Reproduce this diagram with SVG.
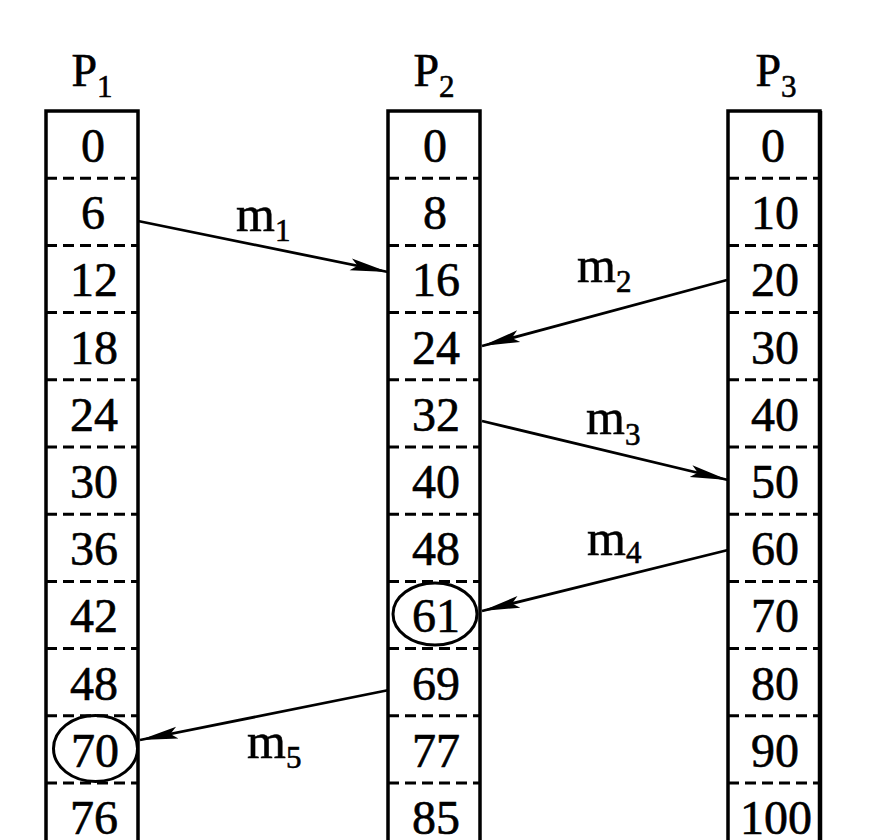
<svg xmlns="http://www.w3.org/2000/svg" width="882" height="840" viewBox="0 0 882 840">
<style>
  .col { fill: none; stroke: #000; stroke-width: 3.5; }
  .div { stroke: #000; stroke-width: 3; stroke-dasharray: 11 6; }
  .num { font-family: "Liberation Serif", "Times New Roman", serif; font-size: 48px; text-anchor: middle; fill: #000; stroke: #000; stroke-width: 0.6; }
  .hdr { font-family: "Liberation Serif", "Times New Roman", serif; font-size: 46px; text-anchor: middle; fill: #000; stroke: #000; stroke-width: 0.6; }
  .lbl { font-family: "Liberation Serif", "Times New Roman", serif; font-size: 50px; fill: #000; stroke: #000; stroke-width: 0.6; }
  .sub { font-size: 31px; }
  .msg { stroke: #000; stroke-width: 2.8; fill: none; marker-end: url(#arrow); }
  .mark { fill: none; stroke: #000; stroke-width: 3; }
</style>
<defs>
  <marker id="arrow" markerUnits="userSpaceOnUse" markerWidth="44" markerHeight="16" refX="38" refY="8" orient="auto">
    <path d="M0,2 L38,8 L0,14 L7,8 Z" fill="#000"/>
  </marker>
</defs>
<rect width="882" height="840" fill="#fff"/>

<g id="P1">
  <text class="hdr" x="92" y="86">P<tspan class="sub" dy="11">1</tspan></text>
  <path class="col" d="M46,850 V111 H138 V850"/>
  <line class="div" x1="46" y1="178.2" x2="138" y2="178.2"/>
  <line class="div" x1="46" y1="245.4" x2="138" y2="245.4"/>
  <line class="div" x1="46" y1="312.6" x2="138" y2="312.6"/>
  <line class="div" x1="46" y1="379.8" x2="138" y2="379.8"/>
  <line class="div" x1="46" y1="447" x2="138" y2="447"/>
  <line class="div" x1="46" y1="514.2" x2="138" y2="514.2"/>
  <line class="div" x1="46" y1="581.4" x2="138" y2="581.4"/>
  <line class="div" x1="46" y1="648.6" x2="138" y2="648.6"/>
  <line class="div" x1="46" y1="715.8" x2="138" y2="715.8"/>
  <line class="div" x1="46" y1="783" x2="138" y2="783"/>
  <text class="num" x="93" y="162">0</text>
  <text class="num" x="93" y="229">6</text>
  <text class="num" x="94" y="296">12</text>
  <text class="num" x="94" y="364">18</text>
  <text class="num" x="94" y="431">24</text>
  <text class="num" x="94" y="498">30</text>
  <text class="num" x="94" y="565">36</text>
  <text class="num" x="94" y="632">42</text>
  <text class="num" x="94" y="700">48</text>
  <text class="num" x="95" y="767">70</text>
  <text class="num" x="94" y="834">76</text>
  <ellipse class="mark" cx="95.5" cy="748.5" rx="42" ry="33"/>
</g>

<g id="P2">
  <text class="hdr" x="434" y="86">P<tspan class="sub" dy="11">2</tspan></text>
  <path class="col" d="M388,850 V111 H480 V850"/>
  <line class="div" x1="388" y1="178.2" x2="480" y2="178.2"/>
  <line class="div" x1="388" y1="245.4" x2="480" y2="245.4"/>
  <line class="div" x1="388" y1="312.6" x2="480" y2="312.6"/>
  <line class="div" x1="388" y1="379.8" x2="480" y2="379.8"/>
  <line class="div" x1="388" y1="447" x2="480" y2="447"/>
  <line class="div" x1="388" y1="514.2" x2="480" y2="514.2"/>
  <line class="div" x1="388" y1="581.4" x2="480" y2="581.4"/>
  <line class="div" x1="388" y1="648.6" x2="480" y2="648.6"/>
  <line class="div" x1="388" y1="715.8" x2="480" y2="715.8"/>
  <line class="div" x1="388" y1="783" x2="480" y2="783"/>
  <text class="num" x="435" y="162">0</text>
  <text class="num" x="435" y="229">8</text>
  <text class="num" x="436" y="296">16</text>
  <text class="num" x="436" y="364">24</text>
  <text class="num" x="436" y="431">32</text>
  <text class="num" x="436" y="498">40</text>
  <text class="num" x="436" y="565">48</text>
  <text class="num" x="436" y="632">61</text>
  <text class="num" x="436" y="700">69</text>
  <text class="num" x="436" y="767">77</text>
  <text class="num" x="436" y="834">85</text>
  <ellipse class="mark" cx="435" cy="614" rx="42" ry="31"/>
</g>

<g id="P3">
  <text class="hdr" x="776" y="86">P<tspan class="sub" dy="11">3</tspan></text>
  <path class="col" d="M728,850 V111 H820 V850"/>
  <line x1="820" y1="111" x2="820" y2="850" stroke="#000" stroke-width="4.5"/>
  <line class="div" x1="728" y1="178.2" x2="820" y2="178.2"/>
  <line class="div" x1="728" y1="245.4" x2="820" y2="245.4"/>
  <line class="div" x1="728" y1="312.6" x2="820" y2="312.6"/>
  <line class="div" x1="728" y1="379.8" x2="820" y2="379.8"/>
  <line class="div" x1="728" y1="447" x2="820" y2="447"/>
  <line class="div" x1="728" y1="514.2" x2="820" y2="514.2"/>
  <line class="div" x1="728" y1="581.4" x2="820" y2="581.4"/>
  <line class="div" x1="728" y1="648.6" x2="820" y2="648.6"/>
  <line class="div" x1="728" y1="715.8" x2="820" y2="715.8"/>
  <line class="div" x1="728" y1="783" x2="820" y2="783"/>
  <text class="num" x="773" y="162">0</text>
  <text class="num" x="775" y="229">10</text>
  <text class="num" x="775" y="296">20</text>
  <text class="num" x="775" y="364">30</text>
  <text class="num" x="775" y="431">40</text>
  <text class="num" x="775" y="498">50</text>
  <text class="num" x="775" y="565">60</text>
  <text class="num" x="775" y="632">70</text>
  <text class="num" x="775" y="700">80</text>
  <text class="num" x="775" y="767">90</text>
  <text class="num" x="776" y="834">100</text>
</g>

<g id="connectors">
  <line class="msg" x1="138" y1="221" x2="388" y2="272"/>
  <line class="msg" x1="727" y1="280" x2="482" y2="346"/>
  <line class="msg" x1="482" y1="421" x2="728" y2="480"/>
  <line class="msg" x1="728" y1="550" x2="482" y2="611"/>
  <line class="msg" x1="389" y1="690" x2="140" y2="740"/>
  <text class="lbl" x="236" y="231">m<tspan class="sub" dy="10">1</tspan></text>
  <text class="lbl" x="577" y="282">m<tspan class="sub" dy="10">2</tspan></text>
  <text class="lbl" x="586" y="434">m<tspan class="sub" dy="11">3</tspan></text>
  <text class="lbl" x="587" y="555">m<tspan class="sub" dy="8">4</tspan></text>
  <text class="lbl" x="247" y="758">m<tspan class="sub" dy="10">5</tspan></text>
</g>
</svg>
